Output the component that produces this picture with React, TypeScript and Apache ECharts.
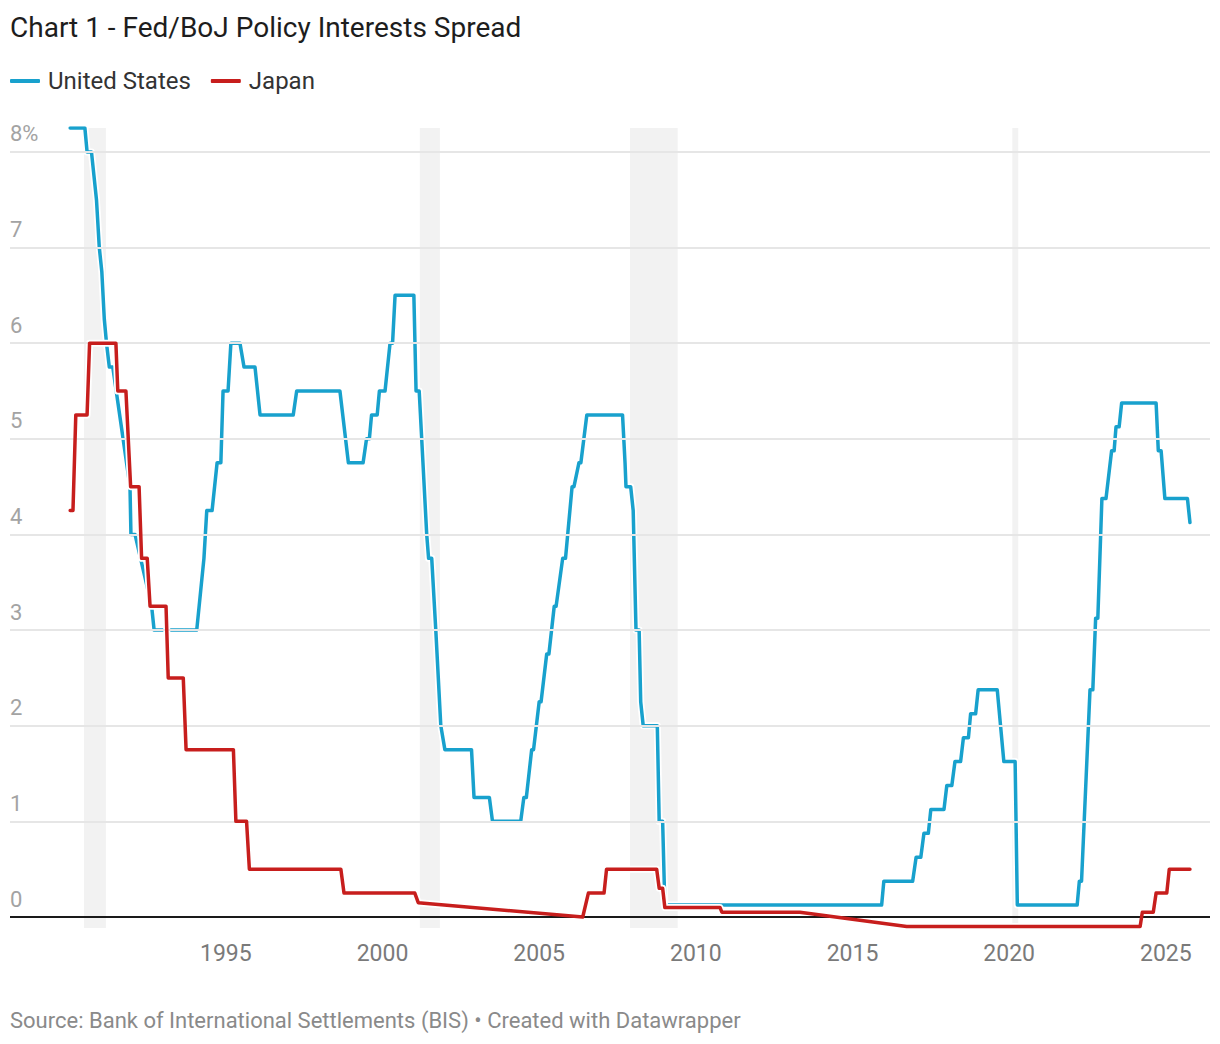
import React, { useEffect, useRef } from "react";
import * as echarts from "echarts";

const TITLE = "Chart 1 - Fed/BoJ Policy Interests Spread";
const SOURCE = "Source: Bank of International Settlements (BIS) • Created with Datawrapper";

const seriesNames = ["United States", "Japan"];
const seriesColors = ["#18a1cd", "#c71e1d"];

const yTicks = [0, 1, 2, 3, 4, 5, 6, 7, 8];
const xTicks = [1995, 2000, 2005, 2010, 2015, 2020, 2025];

// US recessions shaded behind the lines: [start, end] as decimal years
const recessions: [number, number][] = [
  [1990.47, 1991.17],
  [2001.19, 2001.83],
  [2007.9, 2009.42],
  [2020.1, 2020.29],
];

// Fed policy rate, % — [decimal year, rate]
const unitedStates: [number, number][] = [
  [1990.03, 8.25], [1990.5, 8.25], [1990.57, 8.0], [1990.71, 8.0], [1990.79, 7.75],
  [1990.87, 7.5], [1990.96, 7.0], [1991.04, 6.75], [1991.12, 6.25], [1991.19, 6.0],
  [1991.28, 5.75], [1991.39, 5.75], [1991.94, 4.5], [1991.97, 4.0], [1992.1, 4.0],
  [1992.63, 3.25], [1992.71, 3.0], [1994.07, 3.0], [1994.3, 3.75], [1994.39, 4.25],
  [1994.56, 4.25], [1994.72, 4.75], [1994.84, 4.75], [1994.91, 5.5], [1995.07, 5.5],
  [1995.16, 6.0], [1995.45, 6.0], [1995.58, 5.75], [1995.93, 5.75], [1996.09, 5.25],
  [1997.15, 5.25], [1997.26, 5.5], [1998.64, 5.5], [1998.91, 4.75], [1999.38, 4.75],
  [1999.49, 5.0], [1999.58, 5.0], [1999.65, 5.25], [1999.83, 5.25], [1999.9, 5.5],
  [2000.08, 5.5], [2000.24, 6.0], [2000.32, 6.0], [2000.4, 6.5], [2001.0, 6.5],
  [2001.07, 5.5], [2001.17, 5.5], [2001.41, 4.0], [2001.47, 3.75], [2001.57, 3.75],
  [2001.7, 3.0], [2001.86, 2.0], [2001.99, 1.75], [2002.84, 1.75], [2002.92, 1.25],
  [2003.41, 1.25], [2003.51, 1.0], [2004.41, 1.0], [2004.51, 1.25], [2004.59, 1.25],
  [2004.76, 1.75], [2004.82, 1.75], [2005.0, 2.25], [2005.06, 2.25], [2005.24, 2.75],
  [2005.31, 2.75], [2005.48, 3.25], [2005.54, 3.25], [2005.75, 3.75], [2005.84, 3.75],
  [2006.05, 4.5], [2006.11, 4.5], [2006.27, 4.75], [2006.33, 4.75], [2006.52, 5.25],
  [2007.66, 5.25], [2007.74, 4.75], [2007.77, 4.5], [2007.92, 4.5], [2008.0, 4.25],
  [2008.09, 3.0], [2008.19, 3.0], [2008.24, 2.25], [2008.32, 2.0], [2008.77, 2.0],
  [2008.83, 1.0], [2008.94, 1.0], [2009.01, 0.125], [2015.93, 0.125], [2016.0, 0.375],
  [2016.92, 0.375], [2017.03, 0.625], [2017.18, 0.625], [2017.28, 0.875], [2017.42, 0.875],
  [2017.5, 1.125], [2017.92, 1.125], [2018.01, 1.375], [2018.17, 1.375], [2018.27, 1.625],
  [2018.45, 1.625], [2018.54, 1.875], [2018.7, 1.875], [2018.77, 2.125], [2018.93, 2.125],
  [2019.01, 2.375], [2019.62, 2.375], [2019.83, 1.625], [2020.19, 1.625], [2020.26, 0.125],
  [2022.17, 0.125], [2022.24, 0.375], [2022.31, 0.375], [2022.58, 2.375], [2022.67, 2.375],
  [2022.76, 3.125], [2022.83, 3.125], [2022.96, 4.375], [2023.09, 4.375], [2023.27, 4.875],
  [2023.35, 4.875], [2023.41, 5.125], [2023.51, 5.125], [2023.59, 5.375], [2024.69, 5.375],
  [2024.76, 4.875], [2024.85, 4.875], [2024.97, 4.375], [2025.69, 4.375], [2025.77, 4.125],
];

// BoJ policy rate, % — [decimal year, rate]
const japan: [number, number][] = [
  [1990.03, 4.25], [1990.12, 4.25], [1990.21, 5.25], [1990.57, 5.25], [1990.65, 6.0],
  [1991.49, 6.0], [1991.55, 5.5], [1991.81, 5.5], [1991.96, 4.5], [1992.23, 4.5],
  [1992.31, 3.75], [1992.49, 3.75], [1992.58, 3.25], [1993.09, 3.25], [1993.16, 2.5],
  [1993.64, 2.5], [1993.73, 1.75], [1995.24, 1.75], [1995.32, 1.0], [1995.66, 1.0],
  [1995.75, 0.5], [1998.67, 0.5], [1998.77, 0.25], [2001.03, 0.25], [2001.14, 0.15],
  [2006.39, 0.0], [2006.57, 0.25], [2007.07, 0.25], [2007.15, 0.5], [2008.75, 0.5],
  [2008.83, 0.3], [2008.94, 0.3], [2009.01, 0.1], [2010.77, 0.1], [2010.83, 0.05],
  [2013.32, 0.05], [2016.73, -0.1], [2024.18, -0.1], [2024.25, 0.05], [2024.6, 0.05],
  [2024.69, 0.25], [2025.03, 0.25], [2025.11, 0.5], [2025.77, 0.5],
];

const seriesData = [unitedStates, japan];
const FONT = "Roboto";

export default function App() {
  const ref = useRef<HTMLDivElement>(null);

  useEffect(() => {
    if (!ref.current) return;
    const chart = echarts.init(ref.current, null, { renderer: "svg" });

    const lineSeries: any[] = [];
    seriesData.forEach((data, i) => {
      // white outline under each line
      lineSeries.push({
        type: "line",
        name: seriesNames[i] + " outline",
        data,
        silent: true,
        showSymbol: false,
        symbol: "none",
        z: 2 + i * 2,
        lineStyle: { color: "#ffffff", width: 7, cap: "round", join: "round" },
      });
      lineSeries.push({
        type: "line",
        name: seriesNames[i],
        data,
        silent: true,
        showSymbol: false,
        symbol: "none",
        color: seriesColors[i],
        z: 3 + i * 2,
        lineStyle: { color: seriesColors[i], width: 3.5, cap: "round", join: "round" },
      });
    });

    const option: any = {
      animation: false,
      backgroundColor: "#ffffff",
      textStyle: { fontFamily: FONT },
      title: {
        text: TITLE,
        left: 10,
        top: 10,
        padding: 0,
        textStyle: {
          fontFamily: FONT,
          fontSize: 28,
          fontWeight: "normal",
          color: "#1d1d1d",
          lineHeight: 34,
        },
      },
      legend: {
        data: seriesNames,
        left: 10,
        top: 67,
        padding: 0,
        itemWidth: 30,
        itemHeight: 4,
        itemGap: 20,
        icon: "roundRect",
        selectedMode: false,
        textStyle: {
          fontFamily: FONT,
          fontSize: 24,
          color: "#333333",
          lineHeight: 28,
          padding: [0, 0, 0, 3],
        },
      },
      grid: { left: 10, right: 10, top: 128, height: 800 },
      xAxis: {
        type: "value",
        min: 1988.11,
        max: 2026.41,
        axisLine: { show: false },
        axisTick: { show: false },
        splitLine: { show: false },
        axisLabel: {
          customValues: xTicks,
          fontFamily: FONT,
          fontSize: 23,
          color: "#7a7a7a",
          margin: 14,
          formatter: (v: number) => String(v),
        },
      },
      yAxis: {
        type: "value",
        min: -0.115,
        max: 8.25,
        axisLine: { show: false },
        axisTick: { show: false },
        splitLine: { show: false },
        axisLabel: {
          inside: true,
          customValues: yTicks,
          margin: 0,
          fontFamily: FONT,
          fontSize: 22,
          color: "#a3a3a3",
          verticalAlign: "bottom",
          lineHeight: 22,
          padding: [0, 0, 7, 0],
          formatter: (v: number) => (v === 8 ? "8%" : String(v)),
        },
      },
      graphic: [
        {
          type: "text",
          x: 10,
          y: 1020,
          silent: true,
          style: {
            text: SOURCE,
            fontFamily: FONT,
            fontSize: 22,
            fill: "#8a8a8a",
            verticalAlign: "middle",
          },
        },
      ],
      series: [
        {
          type: "line",
          name: "background",
          data: [],
          silent: true,
          z: 1,
          markArea: {
            silent: true,
            itemStyle: { color: "#f2f2f2" },
            data: recessions.map(([a, b]) => [{ xAxis: a }, { xAxis: b }]),
          },
          markLine: {
            silent: true,
            symbol: ["none", "none"],
            label: { show: false },
            data: [
              ...yTicks
                .filter((v) => v !== 0)
                .map((v) => ({
                  yAxis: v,
                  lineStyle: { color: "#e6e6e6", width: 2, type: "solid" },
                })),
              { yAxis: 0, lineStyle: { color: "#1a1a1a", width: 2, type: "solid" } },
            ],
          },
        },
        ...lineSeries,
      ],
    };

    chart.setOption(option);
    return () => chart.dispose();
  }, []);

  return (
    <div
      ref={ref}
      style={{ position: "fixed", left: 0, top: 0, width: 1220, height: 1044, background: "#ffffff" }}
    />
  );
}
